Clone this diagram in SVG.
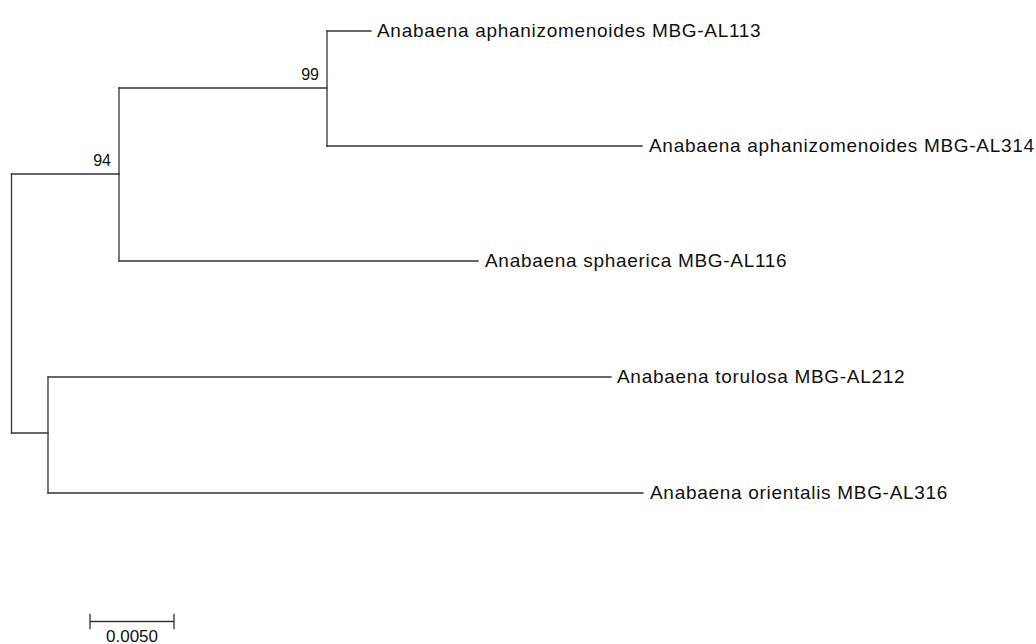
<svg xmlns="http://www.w3.org/2000/svg" width="1036" height="644" viewBox="0 0 1036 644">
<style>
.br{stroke:#333;stroke-width:1.3;fill:none;stroke-linecap:square}
.lb{font-family:"Liberation Sans",Arial,sans-serif;font-size:19px;fill:#111;letter-spacing:0.7px}
.bs{font-family:"Liberation Sans",Arial,sans-serif;font-size:16px;fill:#111}
.sc{font-family:"Liberation Sans",Arial,sans-serif;font-size:17px;fill:#111}
</style>
<rect width="1036" height="644" fill="#fff"/>
<g id="connectors">
<path class="br" d="M11.5,174 V433"/>
<path class="br" d="M11.5,174 H119"/>
<path class="br" d="M119,88 V261"/>
<path class="br" d="M119,88 H327"/>
<path class="br" d="M327,31 V146"/>
<path class="br" d="M327,31 H371"/>
<path class="br" d="M327,146 H642"/>
<path class="br" d="M119,261 H478"/>
<path class="br" d="M11.5,433 H48"/>
<path class="br" d="M48,377 V493"/>
<path class="br" d="M48,377 H611"/>
<path class="br" d="M48,493 H643"/>
</g>
<g id="node-99"><text class="bs" x="319" y="80" text-anchor="end">99</text></g>
<g id="node-94"><text class="bs" x="111" y="166" text-anchor="end">94</text></g>
<g id="leaf-AL113"><text class="lb" x="377" y="37">Anabaena aphanizomenoides MBG-AL113</text></g>
<g id="leaf-AL314"><text class="lb" x="649" y="152">Anabaena aphanizomenoides MBG-AL314</text></g>
<g id="leaf-AL116"><text class="lb" x="485" y="267">Anabaena sphaerica MBG-AL116</text></g>
<g id="leaf-AL212"><text class="lb" x="617" y="383">Anabaena torulosa MBG-AL212</text></g>
<g id="leaf-AL316"><text class="lb" x="650" y="499">Anabaena orientalis MBG-AL316</text></g>
<g id="scale-bar">
<path class="br" d="M90,621.5 H174 M90,614.5 V628.5 M174,614.5 V628.5"/>
<text class="sc" x="132" y="642" text-anchor="middle">0.0050</text>
</g>
</svg>
